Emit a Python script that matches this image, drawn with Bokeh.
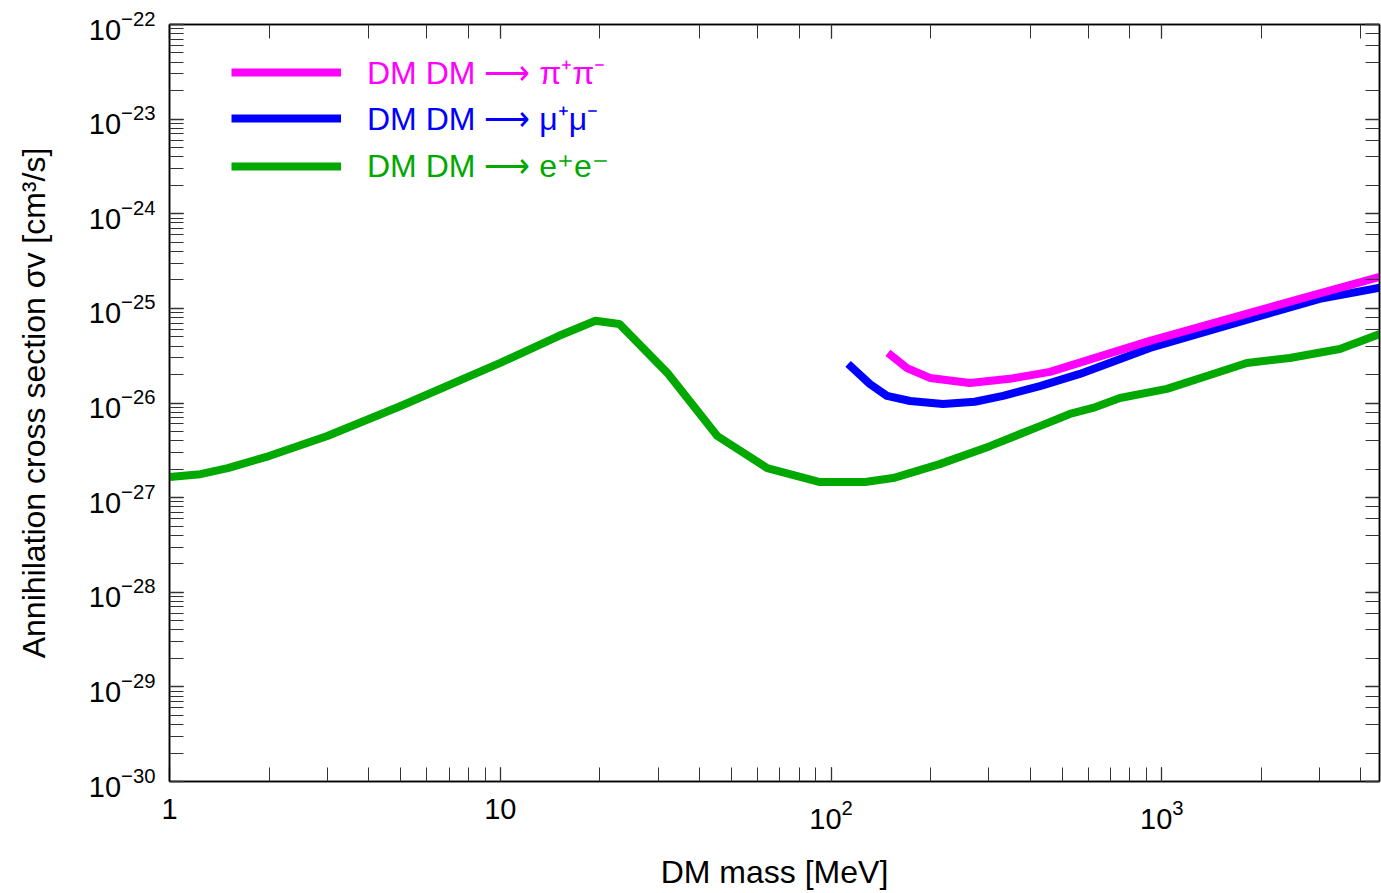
from bokeh.plotting import figure
from bokeh.models import (LogAxis, LogTicker, LogTickFormatter, Legend, LegendItem, Range1d,
                          CustomJSTickFormatter)
from bokeh.embed import file_html
from bokeh.resources import INLINE

# DM DM -> e+ e-
ee_mass = [1.0, 1.24, 1.50, 2.0, 3.0, 5.0, 10.0, 15.0, 19.4, 22.9, 32.2, 45.3, 64.1, 92.6,
           126.7, 154, 213, 302, 428, 527, 619, 747, 1036, 1368, 1807, 2436, 3451, 4560]
ee_sigv = [1.65e-27, 1.77e-27, 2.05e-27, 2.75e-27, 4.48e-27, 9.3e-27, 2.65e-26, 5.1e-26, 7.4e-26,
           6.85e-26, 2.03e-26, 4.48e-27, 2.05e-27, 1.46e-27, 1.46e-27, 1.61e-27, 2.26e-27, 3.5e-27,
           5.7e-27, 7.66e-27, 8.86e-27, 1.13e-26, 1.41e-26, 1.93e-26, 2.65e-26, 2.99e-26, 3.72e-26, 5.37e-26]

# DM DM -> mu+ mu-
mumu_mass = [112.6, 131, 147.6, 173.4, 218, 272, 331, 428, 565, 920, 1845, 3000, 4560]
mumu_sigv = [2.59e-26, 1.59e-26, 1.19e-26, 1.05e-26, 9.75e-27, 1.03e-26, 1.19e-26, 1.51e-26,
             2.03e-26, 3.82e-26, 7.74e-26, 1.26e-25, 1.65e-25]

# DM DM -> pi+ pi-
pipi_mass = [148.6, 169.7, 199, 263, 347, 459, 920, 1845, 3000, 4560]
pipi_sigv = [3.38e-26, 2.34e-26, 1.84e-26, 1.63e-26, 1.80e-26, 2.13e-26, 4.53e-26, 8.96e-26,
             1.44e-25, 2.15e-25]

labels = ["DM DM \u27f6 \u03c0\u207a\u03c0\u207b", "DM DM \u27f6 \u03bc\u207a\u03bc\u207b", "DM DM \u27f6 e\u207ae\u207b"]
colors = ["#ff00ff", "#0000ff", "#00a800"]

FONT = "Liberation Sans"

p = figure(width=1381, height=893, x_axis_type="log", y_axis_type="log",
           x_range=Range1d(1, 4550), y_range=Range1d(1e-30, 1e-22),
           output_backend="svg", toolbar_location=None,
           min_border_left=169, min_border_top=24, min_border_right=2, min_border_bottom=112)
p.grid.visible = False
p.outline_line_color = "black"
p.outline_line_width = 1.5

r_e = p.line(ee_mass, ee_sigv, line_color=colors[2], line_width=8, line_join="round")
r_mu = p.line(mumu_mass, mumu_sigv, line_color=colors[1], line_width=8, line_join="round")
r_pi = p.line(pipi_mass, pipi_sigv, line_color=colors[0], line_width=8, line_join="round")

def style_axis(ax, show_labels=True):
    ax.axis_line_color = "black"
    ax.axis_line_width = 1.5
    ax.major_tick_in = 14
    ax.major_tick_out = 0
    ax.minor_tick_in = 14
    ax.minor_tick_out = 0
    ax.major_tick_line_color = "#333333"
    ax.minor_tick_line_color = "#333333"
    ax.major_tick_line_width = 1.3
    ax.minor_tick_line_width = 1.0
    ax.major_label_text_font = FONT
    ax.major_label_text_color = "black"
    ax.major_label_text_font_size = "29px"
    ax.major_label_standoff = 14 if show_labels else 0

xa = p.xaxis[0]
ya = p.yaxis[0]
xa.formatter = LogTickFormatter(min_exponent=1)
xa.major_label_overrides = {1: "1", 10: "10"}
style_axis(xa)
style_axis(ya)
xa.major_label_standoff = 17
xa.axis_label = "DM mass [MeV]"
ya.axis_label = "Annihilation cross section \u03c3v [cm\u00b3/s]"
for ax in (xa, ya):
    ax.axis_label_text_font = FONT
    ax.axis_label_text_font_size = "32px"
    ax.axis_label_text_font_style = "normal"
    ax.axis_label_text_color = "black"
xa.axis_label_standoff = 22
ya.axis_label_standoff = 34

blank = CustomJSTickFormatter(code="return '';")
top = LogAxis(ticker=LogTicker(), formatter=blank)
right = LogAxis(ticker=LogTicker(), formatter=blank)
style_axis(top, False)
style_axis(right, False)
p.add_layout(top, "above")
p.add_layout(right, "right")

frame_h = 757
for r, lab, col, cy in [(r_pi, labels[0], colors[0], 51), (r_mu, labels[1], colors[1], 97), (r_e, labels[2], colors[2], 143)]:
    leg = Legend(items=[LegendItem(label=lab, renderers=[r])],
                 location=(62, frame_h - cy - 18),
                 glyph_width=110, glyph_height=36, label_height=36,
                 label_standoff=26, padding=0, margin=0, spacing=0,
                 border_line_alpha=0, background_fill_alpha=0,
                 label_text_font=FONT, label_text_font_size="32px",
                 label_text_color=col)
    p.add_layout(leg)

open("out.html", "w").write(file_html(p, INLINE))
